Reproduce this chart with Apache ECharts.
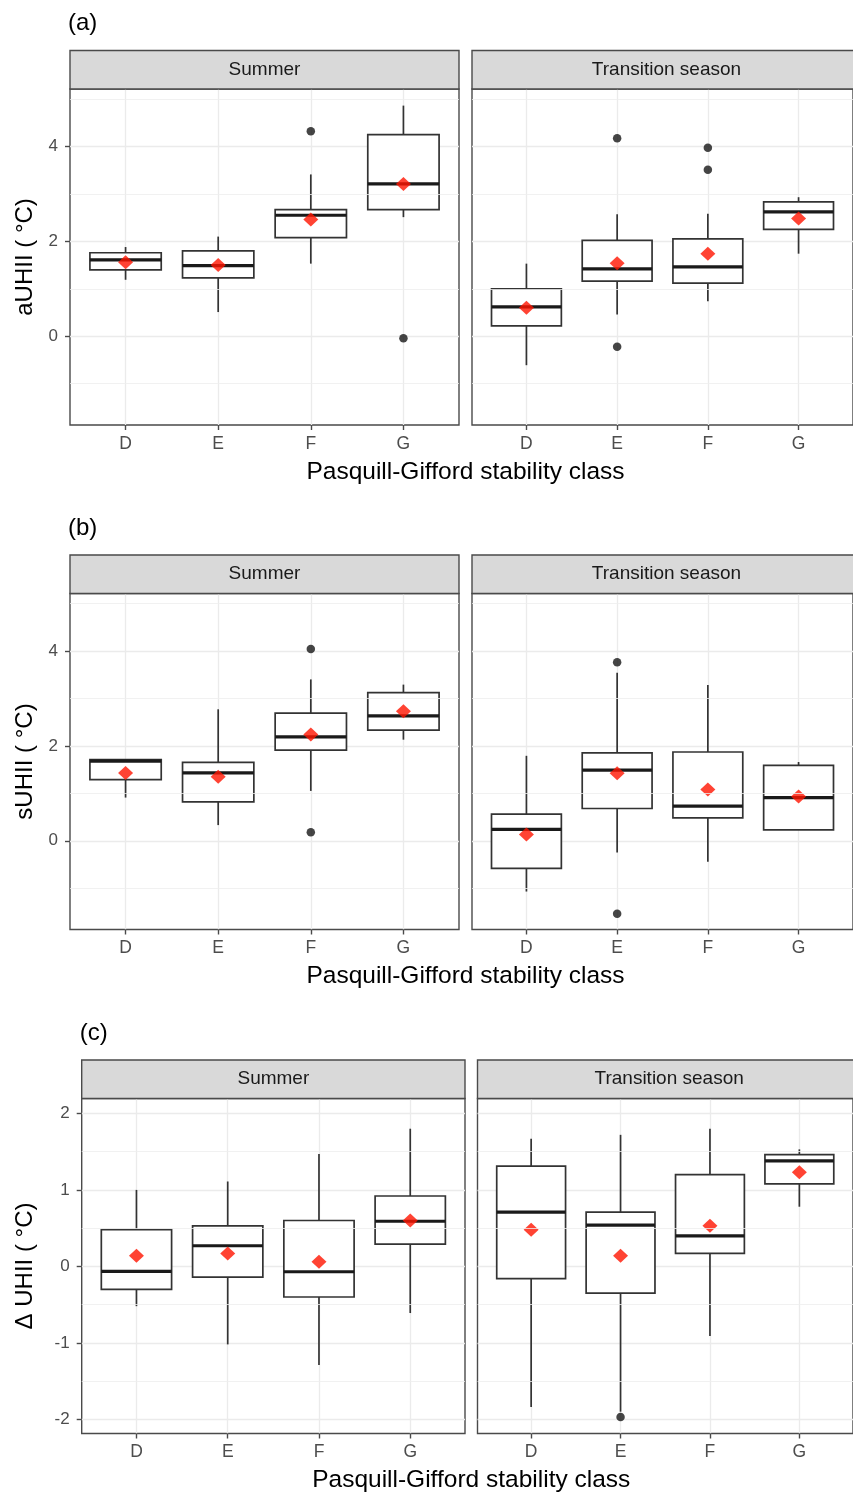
<!DOCTYPE html>
<html><head><meta charset="utf-8">
<script src="https://cdn.jsdelivr.net/npm/echarts@6/dist/echarts.min.js"></script>
<style>html,body{margin:0;padding:0;background:#fff}#c{width:853px;height:1495px}</style>
</head><body><div id="c"></div>
<script>
// ---------- data ----------
const categories = ['D', 'E', 'F', 'G'];
const facets = ['Summer', 'Transition season'];
const panelLabels = ['(a)', '(b)', '(c)'];
const yTitles = ['aUHII ( °C)', 'sUHII ( °C)', 'Δ UHII ( °C)'];
const xTitle = 'Pasquill-Gifford stability class';
const yTicksAB = [0, 2, 4];
const yMinorAB = [-1, 1, 3, 5];
const yTicksC = [-2, -1, 0, 1, 2];
const yMinorC = [-1.5, -0.5, 0.5, 1.5];

// box stats per class: [lower whisker, Q1, median, Q3, upper whisker]
const aSummerBox = [[1.19, 1.40, 1.61, 1.76, 1.88], [0.51, 1.23, 1.49, 1.80, 2.10], [1.53, 2.08, 2.55, 2.67, 3.41], [2.51, 2.67, 3.21, 4.25, 4.86]];
const aSummerMean = [1.56, 1.50, 2.46, 3.21];
const aSummerOut = [[2, 4.32], [3, -0.04]];

const aTransBox = [[-0.61, 0.22, 0.62, 1.00, 1.53], [0.46, 1.16, 1.42, 2.02, 2.57], [0.74, 1.12, 1.46, 2.05, 2.58], [1.74, 2.25, 2.62, 2.83, 2.93]];
const aTransMean = [0.60, 1.54, 1.74, 2.48];
const aTransOut = [[1, 4.17], [1, -0.22], [2, 3.97], [2, 3.51]];

const bSummerBox = [[0.91, 1.29, 1.68, 1.71, 1.71], [0.33, 0.82, 1.43, 1.65, 2.77], [1.05, 1.91, 2.19, 2.69, 3.40], [2.13, 2.33, 2.63, 3.12, 3.29]];
const bSummerMean = [1.43, 1.35, 2.24, 2.73];
const bSummerOut = [[2, 4.04], [2, 0.18]];

const bTransBox = [[-1.07, -0.58, 0.24, 0.56, 1.79], [-0.25, 0.68, 1.49, 1.85, 3.54], [-0.44, 0.48, 0.73, 1.87, 3.28], [0.23, 0.23, 0.91, 1.59, 1.66]];
const bTransMean = [0.13, 1.42, 1.08, 0.93];
const bTransOut = [[1, 3.76], [1, -1.54]];

const cSummerBox = [[-0.52, -0.30, -0.065, 0.48, 1.00], [-1.02, -0.14, 0.27, 0.53, 1.11], [-1.29, -0.40, -0.07, 0.60, 1.47], [-0.61, 0.29, 0.59, 0.92, 1.80]];
const cSummerMean = [0.14, 0.17, 0.06, 0.60];
const cSummerOut = [];

const cTransBox = [[-1.84, -0.16, 0.71, 1.31, 1.67], [-1.90, -0.35, 0.54, 0.71, 1.72], [-0.91, 0.17, 0.40, 1.20, 1.80], [0.78, 1.08, 1.38, 1.46, 1.53]];
const cTransMean = [0.48, 0.14, 0.53, 1.23];
const cTransOut = [[1, -1.97]];

// ---------- layout ----------
const FONT = '"Liberation Sans", Arial, Helvetica, sans-serif';
const panels = [
  { box: aSummerBox, mean: aSummerMean, out: aSummerOut, left: 70, top: 89, width: 389, height: 336, ymin: -1.87, ymax: 5.21, ticks: yTicksAB, minor: yMinorAB, facet: 0, showY: true },
  { box: aTransBox, mean: aTransMean, out: aTransOut, left: 472, top: 89, width: 389, height: 336, ymin: -1.87, ymax: 5.21, ticks: yTicksAB, minor: yMinorAB, facet: 1, showY: false },
  { box: bSummerBox, mean: bSummerMean, out: bSummerOut, left: 70, top: 593.5, width: 389, height: 336, ymin: -1.87, ymax: 5.21, ticks: yTicksAB, minor: yMinorAB, facet: 0, showY: true },
  { box: bTransBox, mean: bTransMean, out: bTransOut, left: 472, top: 593.5, width: 389, height: 336, ymin: -1.87, ymax: 5.21, ticks: yTicksAB, minor: yMinorAB, facet: 1, showY: false },
  { box: cSummerBox, mean: cSummerMean, out: cSummerOut, left: 81.7, top: 1098.5, width: 383.3, height: 335, ymin: -2.185, ymax: 2.195, ticks: yTicksC, minor: yMinorC, facet: 0, showY: true },
  { box: cTransBox, mean: cTransMean, out: cTransOut, left: 477.5, top: 1098.5, width: 383.3, height: 335, ymin: -2.185, ymax: 2.195, ticks: yTicksC, minor: yMinorC, facet: 1, showY: false }
];
const STRIP_H = 38.5;
const BOX_W = 0.77;
const catIdx = categories.map((c, i) => i);

const grid = [], xAxis = [], yAxis = [], series = [], graphic = [];

function renderBox(params, api) {
  const x = api.value(0);
  const pLo = api.coord([x, api.value(1)]);
  const pQ1 = api.coord([x, api.value(2)]);
  const pMed = api.coord([x, api.value(3)]);
  const pQ3 = api.coord([x, api.value(4)]);
  const pHi = api.coord([x, api.value(5)]);
  const w = api.size([BOX_W, 0])[0];
  const cx = pQ1[0];
  const stroke = '#333333';
  return {
    type: 'group',
    children: [
      { type: 'line', shape: { x1: cx, y1: pHi[1], x2: cx, y2: pQ3[1] }, style: { stroke: stroke, lineWidth: 1.7 } },
      { type: 'line', shape: { x1: cx, y1: pQ1[1], x2: cx, y2: pLo[1] }, style: { stroke: stroke, lineWidth: 1.7 } },
      { type: 'rect', shape: { x: cx - w / 2, y: pQ3[1], width: w, height: pQ1[1] - pQ3[1] }, style: { fill: '#ffffff', stroke: stroke, lineWidth: 1.7 } },
      { type: 'line', shape: { x1: cx - w / 2, y1: pMed[1], x2: cx + w / 2, y2: pMed[1] }, style: { stroke: '#1a1a1a', lineWidth: 3.2 } }
    ]
  };
}

panels.forEach((p, i) => {
  grid.push({ left: p.left, top: p.top, width: p.width, height: p.height, show: true, backgroundColor: '#ffffff', borderColor: '#4a4a4a', borderWidth: 1.4, containLabel: false });
  xAxis.push({
    type: 'value', gridIndex: i, min: -0.6, max: 3.6, position: 'bottom',
    axisLine: { show: false, onZero: false },
    axisTick: { show: true, customValues: catIdx, length: 5, lineStyle: { color: '#4a4a4a', width: 1.4 } },
    axisLabel: { show: true, customValues: catIdx, formatter: v => categories[Math.round(v)] || '', margin: 10, color: '#4d4d4d', fontSize: 17.5, fontFamily: FONT },
    splitLine: { show: true, lineStyle: { color: '#ebebeb', width: 1.3 } }
  });
  yAxis.push({
    type: 'value', gridIndex: i, min: p.ymin, max: p.ymax, position: 'left',
    axisLine: { show: false, onZero: false },
    axisTick: { show: p.showY, customValues: p.ticks, length: 5, lineStyle: { color: '#4a4a4a', width: 1.4 } },
    axisLabel: { show: p.showY, customValues: p.ticks, margin: 12, color: '#4d4d4d', fontSize: 17, fontFamily: FONT },
    splitLine: { show: true, lineStyle: { color: '#ebebeb', width: 1.3 } }
  });
  // minor grid lines
  series.push({
    type: 'scatter', xAxisIndex: i, yAxisIndex: i, data: [], silent: true, z: 1,
    markLine: {
      silent: true, symbol: 'none', animation: false,
      label: { show: false },
      lineStyle: { color: '#ededed', width: 0.8, type: 'solid' },
      data: p.minor.map(v => ({ yAxis: v }))
    }
  });
  series.push({
    type: 'custom', xAxisIndex: i, yAxisIndex: i, z: 2,
    renderItem: renderBox,
    encode: { x: 0, y: [1, 2, 3, 4, 5] },
    data: p.box.map((b, k) => [k].concat(b))
  });
  series.push({
    type: 'scatter', xAxisIndex: i, yAxisIndex: i, z: 3,
    symbol: 'circle', symbolSize: 8.5,
    itemStyle: { color: '#161616' },
    data: p.out
  });
  series.push({
    type: 'scatter', xAxisIndex: i, yAxisIndex: i, z: 4,
    symbol: 'diamond', symbolSize: [15, 14],
    itemStyle: { color: '#ff1400' },
    data: p.mean.map((m, k) => [k, m])
  });
  // facet strip
  graphic.push({
    type: 'rect', z: 10,
    shape: { x: p.left, y: p.top - STRIP_H, width: p.width, height: STRIP_H },
    style: { fill: '#d9d9d9', stroke: '#4a4a4a', lineWidth: 1.4 }
  });
  graphic.push({
    type: 'text', z: 11,
    x: p.left + p.width / 2, y: p.top - STRIP_H / 2,
    style: { text: facets[p.facet], fill: '#1a1a1a', font: '19px ' + FONT, align: 'center', verticalAlign: 'middle' }
  });
});

// panel labels, axis titles
const rows = [[0, 1], [2, 3], [4, 5]];
rows.forEach((r, k) => {
  const L = panels[r[0]], R = panels[r[1]];
  graphic.push({
    type: 'text', z: 11, x: L.left - 2, y: L.top - STRIP_H - 27,
    style: { text: panelLabels[k], fill: '#000', font: '24px ' + FONT, align: 'left', verticalAlign: 'middle' }
  });
  graphic.push({
    type: 'text', z: 11, x: (L.left + R.left + R.width) / 2, y: L.top + L.height + 47,
    style: { text: xTitle, fill: '#000', font: '24.5px ' + FONT, align: 'center', verticalAlign: 'middle' }
  });
  graphic.push({
    type: 'text', z: 11, x: 25, y: L.top + L.height / 2, rotation: Math.PI / 2,
    style: { text: yTitles[k], fill: '#000', font: '24px ' + FONT, align: 'center', verticalAlign: 'middle' }
  });
});

const chart = echarts.init(document.getElementById('c'), null, { renderer: 'canvas' });
chart.setOption({
  animation: false,
  backgroundColor: '#ffffff',
  grid: grid, xAxis: xAxis, yAxis: yAxis, series: series, graphic: graphic
});
</script></body></html>
